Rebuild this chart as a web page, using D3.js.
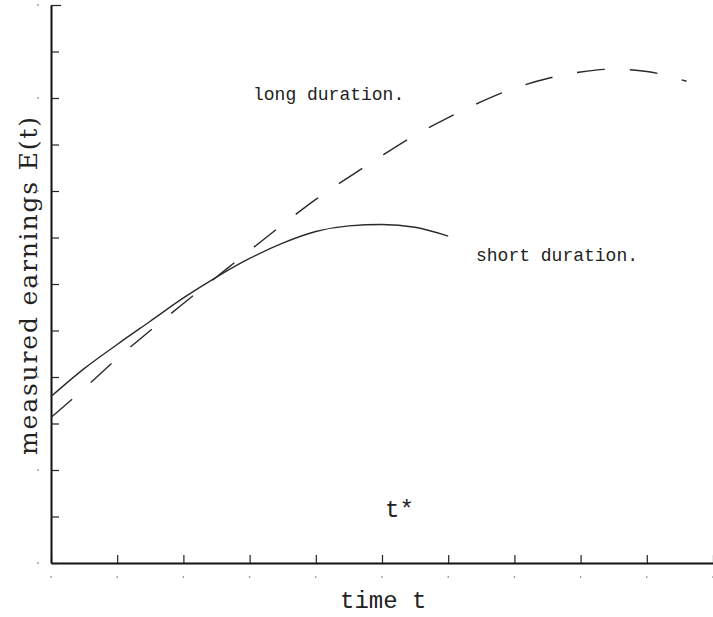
<!DOCTYPE html>
<html>
<head>
<meta charset="utf-8">
<script src="https://cdn.jsdelivr.net/npm/d3@7"></script>
<style>
    body { margin: 0; background: #fff; }
    svg { display: block; }
</style>
</head>
<body>
<script>
// time points and earnings
const shortTimes = [0, 0.5, 1, 1.5, 2, 2.5, 3, 3.5, 4, 4.5, 5, 5.5, 6];
const shortEarnings = [3.58, 4.18, 4.70, 5.20, 5.70, 6.15, 6.55, 6.88, 7.13, 7.25, 7.28, 7.22, 7.03];

const longTimes = [0, 0.5, 1, 1.5, 2, 2.5, 3, 3.5, 4, 4.5, 5, 5.5, 6, 6.5, 7, 7.5, 8, 8.5, 9, 9.6];
const longEarnings = [3.13, 3.75, 4.40, 5.00, 5.58, 6.15, 6.72, 7.28, 7.82, 8.30, 8.76, 9.20, 9.58, 9.92, 10.21, 10.42, 10.56, 10.62, 10.57, 10.36];

const xTicks = d3.range(0, 11);
const yTicks = d3.range(0, 13);

const width = 713,
    height = 617,
    margin = { top: 5, right: 0, bottom: 53, left: 51 };

const svg = d3.select("body").append("svg")
    .attr("width", width)
    .attr("height", height);

const x = d3.scaleLinear()
    .domain([0, 10])
    .range([margin.left, width - margin.right]);

const y = d3.scaleLinear()
    .domain([0, 12])
    .range([height - margin.bottom - 1, margin.top]);

// axes: ticks point inwards, no numbers
const xAxis = svg.append("g")
    .attr("transform", `translate(0,${y(0)})`)
    .call(d3.axisBottom(x).tickValues(xTicks).tickSizeInner(-8).tickSizeOuter(0).tickFormat(""));

const yAxis = svg.append("g")
    .attr("transform", `translate(${x(0)},0)`)
    .call(d3.axisLeft(y).tickValues(yTicks).tickSizeInner(-8).tickSizeOuter(0).tickFormat(""));

[xAxis, yAxis].forEach(a => {
    a.select(".domain").attr("stroke", "#111").attr("stroke-width", 2);
    a.selectAll(".tick line").attr("stroke", "#222").attr("stroke-width", 1.2);
});
yAxis.select(".tick:last-of-type line").attr("x2", 10);

// little dots where the labels would sit
svg.append("g")
    .selectAll("circle")
    .data(xTicks)
    .join("circle")
    .attr("cx", d => x(d))
    .attr("cy", y(0) + 14)
    .attr("r", 0.8)
    .attr("fill", "#666");

svg.append("g")
    .selectAll("circle")
    .data(yTicks.filter(d => d % 2 === 0))
    .join("circle")
    .attr("cx", x(0) - 13)
    .attr("cy", d => y(d))
    .attr("r", 0.8)
    .attr("fill", "#666");

const line = d3.line()
    .x(d => x(d[0]))
    .y(d => y(d[1]))
    .curve(d3.curveMonotoneX);

svg.append("path")
    .datum(shortTimes.map((t, i) => [t, shortEarnings[i]]))
    .attr("d", line)
    .attr("fill", "none")
    .attr("stroke", "#2a2a2a")
    .attr("stroke-width", 1.4);

svg.append("path")
    .datum(longTimes.map((t, i) => [t, longEarnings[i]]))
    .attr("d", line)
    .attr("fill", "none")
    .attr("stroke", "#2a2a2a")
    .attr("stroke-width", 1.4)
    .attr("stroke-dasharray", "28,25");

const mono = "'Liberation Mono', 'DejaVu Sans Mono', monospace";

svg.append("text")
    .attr("x", 253)
    .attr("y", 100)
    .attr("font-family", mono)
    .attr("font-size", 18)
    .attr("fill", "#222")
    .text("long duration.");

svg.append("text")
    .attr("x", 476)
    .attr("y", 261)
    .attr("font-family", mono)
    .attr("font-size", 18)
    .attr("fill", "#222")
    .text("short duration.");

svg.append("text")
    .attr("x", 385)
    .attr("y", 517)
    .attr("font-family", mono)
    .attr("font-size", 24)
    .attr("fill", "#222")
    .text("t*");

svg.append("text")
    .attr("x", 340)
    .attr("y", 608)
    .attr("font-family", mono)
    .attr("font-size", 24)
    .attr("fill", "#222")
    .text("time t");

// y label spans roughly y = 117..455 in the reference
svg.append("text")
    .attr("transform", "rotate(-90)")
    .attr("x", -455)
    .attr("y", 37)
    .attr("font-family", "'DejaVu Serif', serif")
    .attr("font-size", 25)
    .attr("textLength", 338)
    .attr("lengthAdjust", "spacing")
    .attr("fill", "#222")
    .text("measured earnings E(t)");
</script>
</body>
</html>
